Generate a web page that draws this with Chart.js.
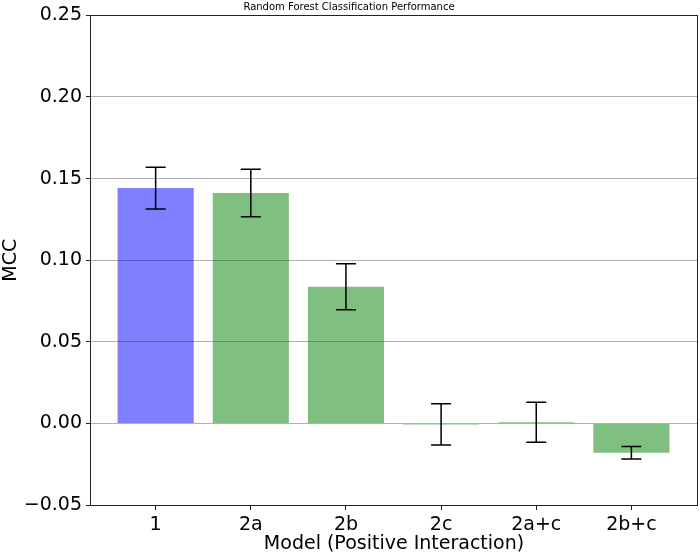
<!DOCTYPE html>
<html>
<head>
<meta charset="utf-8">
<script src="https://cdn.jsdelivr.net/npm/chart.js@4.4.1/dist/chart.umd.min.js"></script>
<style>
  html, body { margin: 0; padding: 0; background: #fff; }
  #wrap { width: 700px; height: 555px; position: relative; }
</style>
</head>
<body>
<div id="wrap"><canvas id="chart"></canvas></div>
<script>
// dados
const models   = ['1', '2a', '2b', '2c', '2a+c', '2b+c'];
const mcc      = [0.1442, 0.1412, 0.0838, -0.0006, 0.0007, -0.0180];
const mccErr   = [0.0128, 0.0145, 0.0141, 0.0126, 0.0123, 0.0038];
const barColor = ['rgba(0,0,255,0.5)', 'rgba(0,128,0,0.5)', 'rgba(0,128,0,0.5)',
                  'rgba(0,128,0,0.5)', 'rgba(0,128,0,0.5)', 'rgba(0,128,0,0.5)'];
const yTicks   = [-0.05, 0, 0.05, 0.10, 0.15, 0.20, 0.25];

const FONT = "'DejaVu Sans', sans-serif";

// barras de erro + moldura do eixo
const errorBars = {
  id: 'errorBars',
  afterDatasetsDraw(chart) {
    const { ctx, scales: { x, y } } = chart;
    ctx.save();
    ctx.strokeStyle = '#000';
    ctx.lineWidth = 1.5;
    mcc.forEach((v, i) => {
      const px  = x.getPixelForValue(i);
      const top = y.getPixelForValue(v + mccErr[i]);
      const bot = y.getPixelForValue(v - mccErr[i]);
      ctx.beginPath();
      ctx.moveTo(px, top); ctx.lineTo(px, bot);
      ctx.moveTo(px - 10, top); ctx.lineTo(px + 10, top);
      ctx.moveTo(px - 10, bot); ctx.lineTo(px + 10, bot);
      ctx.stroke();
    });
    ctx.restore();
  },
  afterDraw(chart) {
    const { ctx, chartArea: a } = chart;
    ctx.save();
    ctx.strokeStyle = '#222';
    ctx.lineWidth = 1;
    ctx.strokeRect(Math.round(a.left) + 0.5, Math.round(a.top) + 0.5,
                   Math.round(a.right - a.left) - 1, Math.round(a.bottom - a.top));
    ctx.restore();
  },
};

new Chart(document.getElementById('chart'), {
  type: 'bar',
  data: {
    datasets: [{
      data: mcc.map((v, i) => ({ x: i, y: v })),
      backgroundColor: barColor,
      borderWidth: 0,
      barPercentage: 0.8,
      categoryPercentage: 1.0,
    }],
  },
  options: {
    responsive: true,
    maintainAspectRatio: false,
    animation: false,
    layout: { padding: { left: 0, right: 2, top: 0, bottom: 0 } },
    plugins: {
      legend: { display: false },
      tooltip: { enabled: false },
      title: {
        display: true,
        text: 'Random Forest Classification Performance',
        color: '#000',
        font: { family: FONT, size: 10, weight: 'normal' },
        padding: { top: 1, bottom: 2 },
      },
    },
    scales: {
      x: {
        type: 'linear',
        offset: false,
        min: -0.69,
        max: 5.7,
        afterBuildTicks: s => { s.ticks = models.map((_, i) => ({ value: i })); },
        afterFit: s => { s.height = 50; },
        ticks: {
          color: '#000',
          font: { family: FONT, size: 19 },
          padding: 4,
          maxRotation: 0,
          callback: v => models[v],
        },
        grid: { offset: false, drawOnChartArea: false, drawTicks: true, tickLength: 5, tickColor: '#222' },
        border: { display: false },
        title: {
          display: true,
          text: 'Model (Positive Interaction)',
          color: '#000',
          font: { family: FONT, size: 19 },
          padding: { top: 0, bottom: 0 },
        },
      },
      y: {
        min: -0.05,
        max: 0.25,
        afterBuildTicks: s => { s.ticks = yTicks.map(v => ({ value: v })); },
        afterFit: s => { s.width = 90; },
        ticks: {
          color: '#000',
          font: { family: FONT, size: 19 },
          padding: 4,
          callback: v => v.toFixed(2).replace('-', '\u2212'),
        },
        grid: { color: '#b0b0b0', lineWidth: 1, tickLength: 4, tickColor: '#222' },
        border: { display: false },
        title: {
          display: true,
          text: 'MCC',
          color: '#000',
          font: { family: FONT, size: 19 },
          padding: { top: 0, bottom: 4 },
        },
      },
    },
  },
  plugins: [errorBars],
});
</script>
</body>
</html>
